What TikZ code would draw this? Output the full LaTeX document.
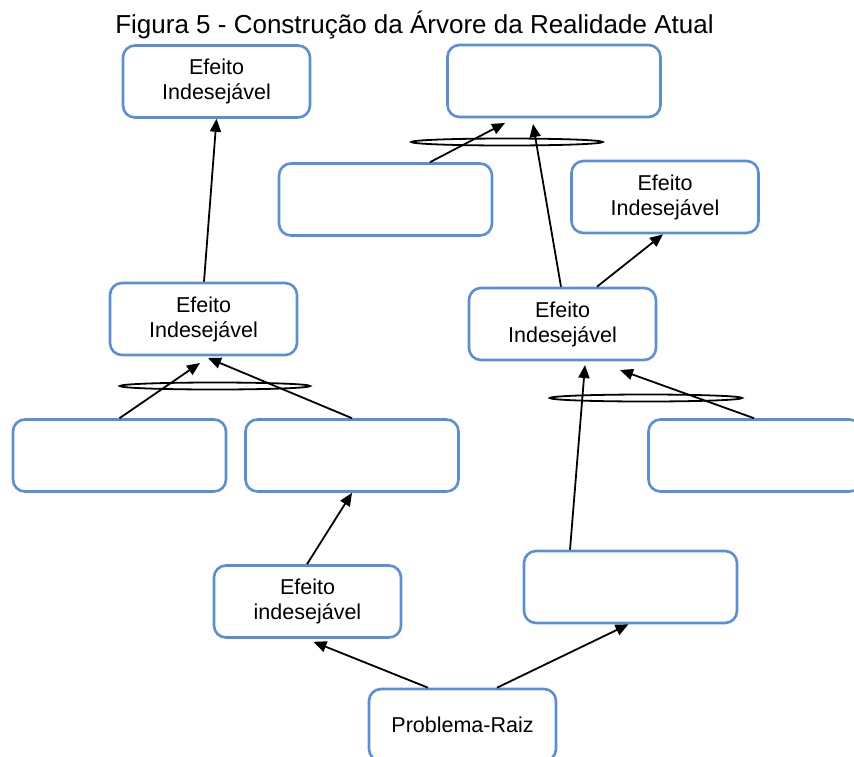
\documentclass[tikz,border=0pt]{standalone}
\usepackage{fontspec}
\setmainfont{Liberation Sans}
\usetikzlibrary{arrows.meta}
\definecolor{boxblue}{RGB}{91,142,216}
\tikzset{
  box/.style={draw=boxblue, line width=2.6pt, rounded corners=12pt, fill=white,
    inner sep=0pt, align=center, font=\fontsize{21.5}{25}\selectfont},
  wbox/.style={box, minimum width=213pt, minimum height=72pt},
  nbox/.style={box, minimum width=187pt, minimum height=72pt},
  arr/.style={line width=1.8pt, -{Triangle[length=13pt,width=11pt]}},
  ring/.style={draw=black, line width=1.8pt}
}
\begin{document}
\begin{tikzpicture}[x=1pt,y=-1pt]
\clip (0,0) rectangle (854,756);
\fill[white] (0,0) rectangle (854,756);

% title
\node[anchor=base, font=\fontsize{26}{30}\selectfont] (title) at (414.5,33)
  {Figura 5 - Construção da Árvore da Realidade Atual};

% boxes
\node[nbox] (b1) at (216.5,81.5) {Efeito\\Indesejável};
\node[wbox] (b2) at (554,81) {};
\node[wbox] (b3) at (385.5,199.5) {};
\node[nbox] (b4) at (665,197) {Efeito\\Indesejável};
\node[nbox] (b5) at (203.5,319) {Efeito\\Indesejável};
\node[nbox] (b6) at (562.5,324) {Efeito\\Indesejável};
\node[wbox] (b7) at (119.5,455.5) {};
\node[wbox] (b8) at (352,455.5) {};
\node[wbox] (b9) at (755,455.5) {};
\node[nbox] (b10) at (307.5,601.5) {Efeito\\indesejável};
\node[wbox] (b11) at (630.5,587) {};
\node[nbox] (b12) at (462.5,725) {Problema-Raiz};

% free arrow tips
\coordinate (t1) at (200,363);
\coordinate (t2) at (208,358);
\coordinate (t4) at (585,365);
\coordinate (t5) at (620,370);
\coordinate (t6) at (533,124);
\coordinate (t7) at (505,123);

% "and" ellipses
\draw[ring] (215,386) ellipse [x radius=95, y radius=3.5];
\draw[ring] (646,398) ellipse [x radius=96, y radius=3.5];
\draw[ring] (507,142) ellipse [x radius=95.5, y radius=3.5];

% arrows
\draw[arr] ([xshift=0.5pt]b5.north) -- (b1.south);
\draw[arr] (b7.north) -- (t1);
\draw[arr] (b8.north) -- (t2);
\draw[arr] ([xshift=-0.5pt]b10.north) -- (b8.south);
\draw[arr] ([xshift=-34.5pt]b12.north) -- ([xshift=6pt,yshift=-3pt]b10.south);
\draw[arr] ([xshift=34.5pt]b12.north) -- ([xshift=-2pt]b11.south);
\draw[arr] ([xshift=-60.5pt]b11.north) -- (t4);
\draw[arr] ([xshift=-1pt]b9.north) -- (t5);
\draw[arr] ([xshift=-1.5pt]b6.north) -- (t6);
\draw[arr] ([xshift=34.5pt]b6.north) -- ([xshift=-2pt]b4.south);
\draw[arr] ([xshift=44.5pt]b3.north) -- (t7);
\end{tikzpicture}
\end{document}
